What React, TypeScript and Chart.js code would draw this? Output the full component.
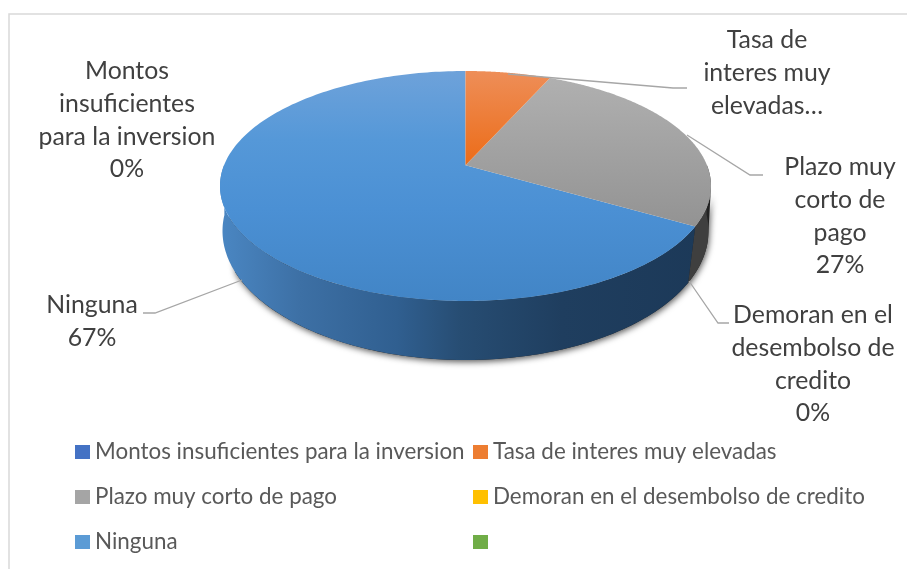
import React, { useEffect, useRef } from "react";
import { Chart, registerables } from "chart.js";

Chart.register(...registerables);

const categories = [
  "Montos insuficientes para la inversion",
  "Tasa de interes muy elevadas",
  "Plazo muy corto de pago",
  "Demoran en el desembolso de credito",
  "Ninguna",
  "",
];
const shares = [0, 6.67, 26.67, 0, 66.66, 0];
const legendColors = ["#4472C4", "#ED7D31", "#A5A5A5", "#FFC000", "#5B9BD5", "#70AD47"];
const calloutTexts = [
  ["Montos", "insuficientes", "para la inversion", "0%"],
  ["Tasa de", "interes muy", "elevadas…"],
  ["Plazo muy", "corto de", "pago", "27%"],
  ["Demoran en el", "desembolso de", "credito", "0%"],
  ["Ninguna", "67%"],
];

// Drawing styles and layout
const FONT = "Lato, sans-serif";
const TOP = { cx: 465.5, cy: 186, a: 245.5, b: 115, d: 0.18 };
const BOTTOM = { cx: 465.5, cy: 231, a: 243, b: 129, d: 0.125 };
const calloutLayout = [
  { x: 127, y: 71 },
  { x: 767, y: 40 },
  { x: 840, y: 167 },
  { x: 813, y: 315 },
  { x: 92, y: 305 },
];
const leaderPaths: number[][][] = [
  [[508, 74], [673, 88], [687, 88]],
  [[687, 135], [750, 175], [763, 175]],
  [[689, 281], [718, 323], [729, 323]],
  [[242, 280], [155, 313], [143, 313]],
];
const topStops: Record<number, [number, number, [number, string][]]> = {
  1: [71, 165, [[0, "#ee8e58"], [1, "#ec6c18"]]],
  2: [78, 226, [[0, "#b0b0b0"], [1, "#939393"]]],
  4: [71, 301, [[0, "#6ea2da"], [0.3, "#5598d8"], [0.6, "#4b90d4"], [1, "#4285c6"]]],
};

type Rim = typeof TOP;
function rimPoint(r: Rim, theta: number): [number, number] {
  const u = Math.sin(theta);
  const v = Math.cos(theta);
  const den = 1 + r.d * v;
  const vp = (v + r.d) / den;
  const up = (u * Math.sqrt(1 - r.d * r.d)) / den;
  return [r.cx + r.a * up, r.cy - r.b * vp];
}

function bandPath(ctx: CanvasRenderingContext2D, t0: number, t1: number) {
  const n = 160;
  ctx.beginPath();
  for (let i = 0; i <= n; i++) {
    const [x, y] = rimPoint(TOP, t0 + ((t1 - t0) * i) / n);
    if (i === 0) ctx.moveTo(x, y);
    else ctx.lineTo(x, y);
  }
  for (let i = n; i >= 0; i--) {
    const [x, y] = rimPoint(BOTTOM, t0 + ((t1 - t0) * i) / n);
    ctx.lineTo(x, y);
  }
  ctx.closePath();
}

const pie3d = {
  id: "pie3d",
  beforeDatasetsDraw(chart: any) {
    const ctx: CanvasRenderingContext2D = chart.ctx;
    const arcs = chart
      .getDatasetMeta(0)
      .data.map((el: any, i: number) => ({
        i,
        t0: el.startAngle + Math.PI / 2,
        t1: el.endAngle + Math.PI / 2,
      }))
      .filter((s: any) => s.t1 - s.t0 > 1e-6);

    // soft shadow below the front wall only
    ctx.save();
    ctx.shadowColor = "rgba(0,0,0,0.65)";
    ctx.shadowBlur = 6;
    ctx.shadowOffsetY = 2;
    ctx.shadowOffsetX = 1;
    ctx.fillStyle = "#222";
    bandPath(ctx, Math.PI * 0.56, Math.PI * 1.36);
    ctx.fill();
    ctx.restore();

    // walls: only the part that faces the viewer
    for (const s of arcs) {
      const from = Math.max(s.t0, Math.PI * 0.5);
      const to = Math.min(s.t1, Math.PI * 1.5);
      if (to <= from) continue;
      let fill: any = "#3f3f3f";
      if (s.i === 4) {
        const g = ctx.createLinearGradient(222, 0, 708, 0);
        g.addColorStop(0, "#4a86c2");
        g.addColorStop(0.16, "#3d70a5");
        g.addColorStop(0.36, "#305f90");
        g.addColorStop(0.49, "#274d73");
        g.addColorStop(0.7, "#1f3e5f");
        g.addColorStop(1, "#1c3958");
        fill = g;
      }
      ctx.fillStyle = fill;
      bandPath(ctx, from, to);
      ctx.fill();
    }

    // top faces
    for (const s of [...arcs].sort((a: any, b: any) => b.i - a.i)) {
      const st = topStops[s.i];
      const g = ctx.createLinearGradient(0, st[0], 0, st[1]);
      st[2].forEach(([o, c]) => g.addColorStop(o, c));
      ctx.fillStyle = g;
      ctx.beginPath();
      ctx.moveTo(TOP.cx, TOP.cy - TOP.b * TOP.d);
      const n = 200;
      for (let k = 0; k <= n; k++) {
        const [x, y] = rimPoint(TOP, s.t0 + ((s.t1 - s.t0) * k) / n);
        ctx.lineTo(x, y);
      }
      ctx.closePath();
      ctx.fill();
    }
    return false;
  },
  afterDraw(chart: any) {
    const ctx: CanvasRenderingContext2D = chart.ctx;
    ctx.save();

    // frame
    ctx.strokeStyle = "#d9d9d9";
    ctx.lineWidth = 1.5;
    ctx.beginPath();
    ctx.moveTo(9, 569);
    ctx.lineTo(9, 14);
    ctx.lineTo(907, 14);
    ctx.stroke();

    // leader lines
    ctx.strokeStyle = "#a6a6a6";
    ctx.lineWidth = 1.3;
    leaderPaths.forEach((path) => {
      ctx.beginPath();
      path.forEach(([x, y], j) => (j ? ctx.lineTo(x, y) : ctx.moveTo(x, y)));
      ctx.stroke();
    });

    // callouts
    ctx.fillStyle = "#404040";
    ctx.font = `24.8px ${FONT}`;
    ctx.textAlign = "center";
    ctx.textBaseline = "middle";
    calloutTexts.forEach((lines, i) => {
      const p = calloutLayout[i];
      lines.forEach((t, j) => ctx.fillText(t, p.x, p.y + j * 32.8));
    });

    // legend
    const labels: string[] = chart.data.labels;
    const colX = [75, 473];
    const rowY = [452, 497, 542];
    ctx.textAlign = "left";
    ctx.font = `22.4px ${FONT}`;
    labels.forEach((t, i) => {
      const x = colX[i % 2];
      const y = rowY[Math.floor(i / 2)];
      ctx.fillStyle = legendColors[i];
      ctx.fillRect(x, y - 7, 15, 14);
      ctx.fillStyle = "#595959";
      if (t) ctx.fillText(t, x + 20, y);
    });
    ctx.restore();
  },
};

export default function App() {
  const ref = useRef<HTMLCanvasElement>(null);
  useEffect(() => {
    document.body.style.margin = "0";
    const chart = new Chart(ref.current!, {
      type: "pie",
      data: {
        labels: categories,
        datasets: [{ data: shares, backgroundColor: legendColors, borderWidth: 0 }],
      },
      options: {
        responsive: false,
        animation: false,
        plugins: { legend: { display: false }, tooltip: { enabled: false } },
      },
      plugins: [pie3d as any],
    });
    return () => chart.destroy();
  }, []);
  return <canvas ref={ref} width={907} height={569} style={{ display: "block", background: "#fff" }} />;
}
